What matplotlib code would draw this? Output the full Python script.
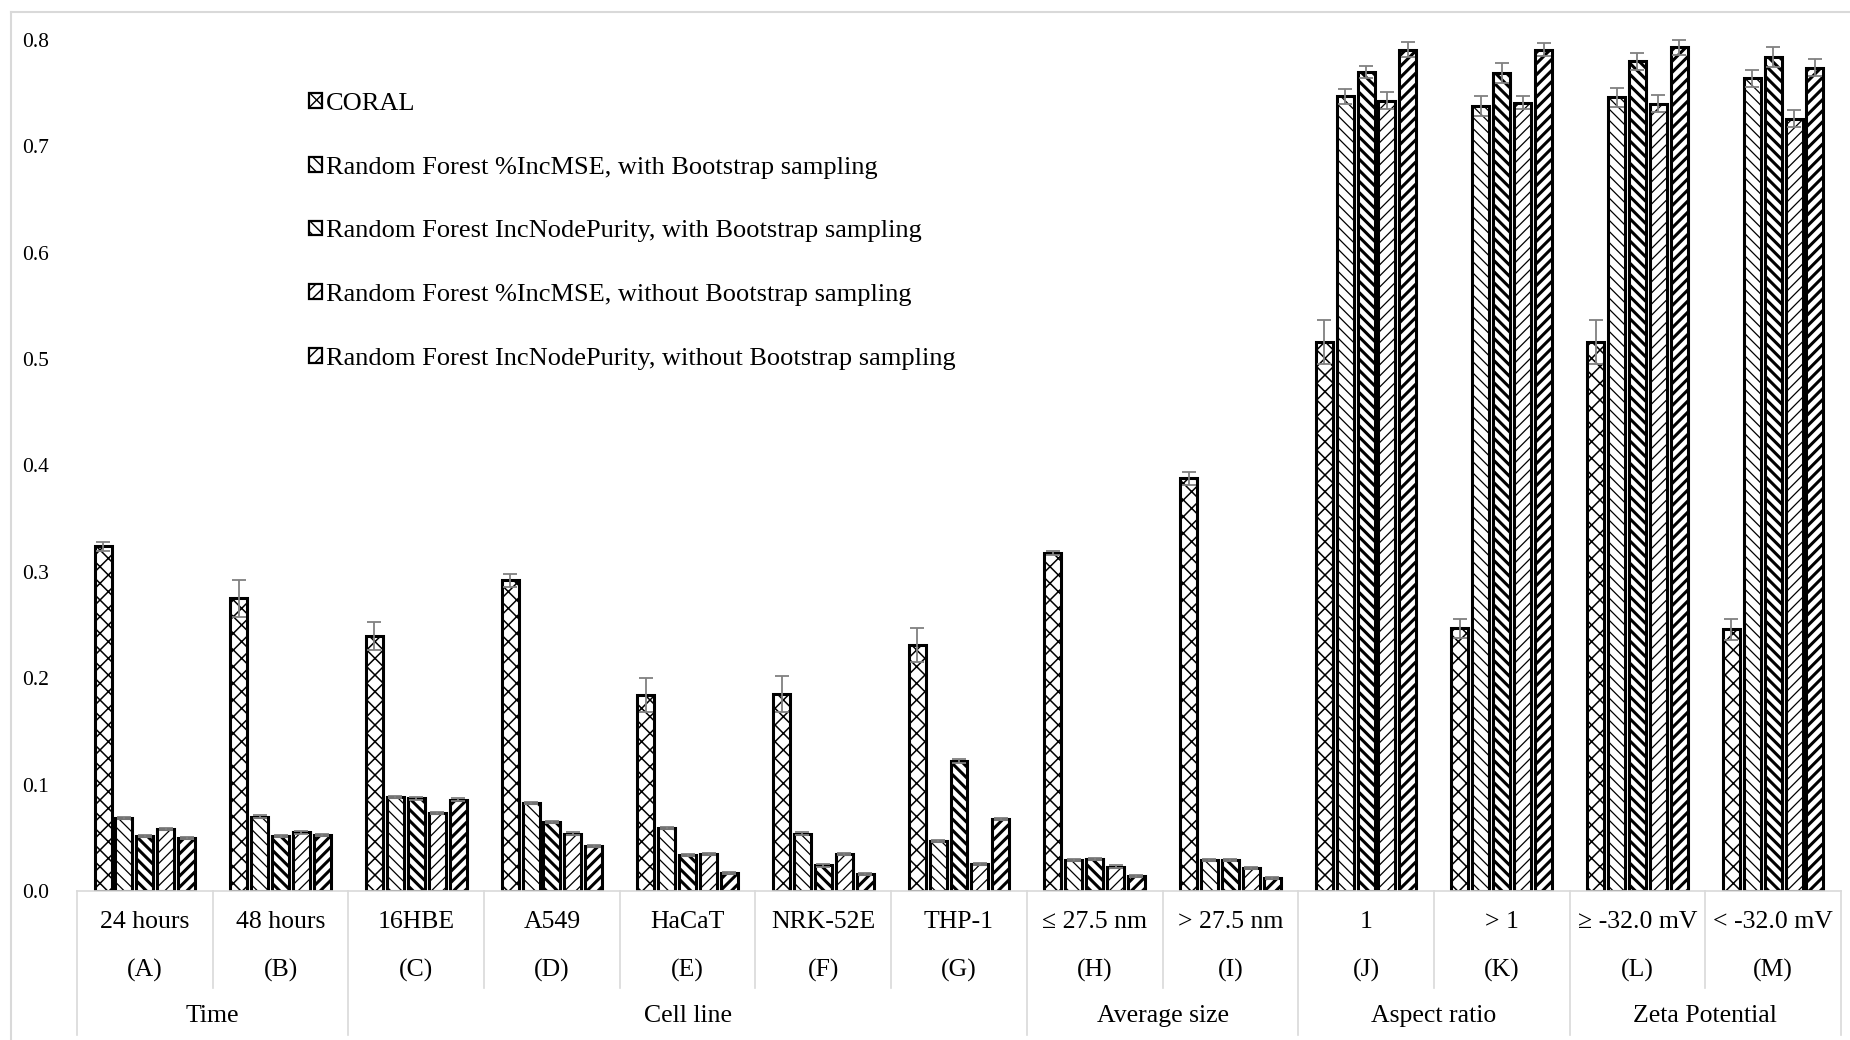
import numpy as np
import matplotlib
matplotlib.use('Agg')
import matplotlib.pyplot as plt
from matplotlib.lines import Line2D
from matplotlib.patches import Patch

plt.rcParams['font.family'] = ['Liberation Serif', 'DejaVu Serif']

labels = ['24 hours', '48 hours', '16HBE', 'A549', 'HaCaT', 'NRK-52E', 'THP-1',
          '\u2264 27.5 nm', '> 27.5 nm', '1', '> 1', '\u2265 -32.0 mV', '< -32.0 mV']
letters = ['(A)', '(B)', '(C)', '(D)', '(E)', '(F)', '(G)',
           '(H)', '(I)', '(J)', '(K)', '(L)', '(M)']
groups = ['Time', 'Cell line', 'Average size', 'Aspect ratio', 'Zeta Potential']
group_sizes = [2, 5, 2, 2, 2]

series_names = ['CORAL',
                'Random Forest %IncMSE, with Bootstrap sampling',
                'Random Forest IncNodePurity, with Bootstrap sampling',
                'Random Forest %IncMSE, without Bootstrap sampling',
                'Random Forest IncNodePurity, without Bootstrap sampling']

coral = [0.324, 0.275, 0.240, 0.292, 0.184, 0.185, 0.231, 0.318, 0.388, 0.516, 0.247, 0.516, 0.246]
rf_mse_bs = [0.069, 0.070, 0.088, 0.083, 0.059, 0.054, 0.047, 0.029, 0.029, 0.747, 0.738, 0.746, 0.764]
rf_inp_bs = [0.052, 0.052, 0.087, 0.065, 0.034, 0.024, 0.122, 0.030, 0.029, 0.770, 0.769, 0.780, 0.784]
rf_mse_nobs = [0.058, 0.055, 0.073, 0.054, 0.035, 0.035, 0.025, 0.023, 0.022, 0.743, 0.741, 0.740, 0.726]
rf_inp_nobs = [0.050, 0.053, 0.086, 0.042, 0.017, 0.016, 0.068, 0.014, 0.012, 0.791, 0.791, 0.793, 0.774]

coral_err = [0.004, 0.017, 0.013, 0.006, 0.016, 0.017, 0.016, 0.002, 0.006, 0.021, 0.009, 0.021, 0.010]
rf_mse_bs_err = [0.001, 0.001, 0.001, 0.001, 0.001, 0.001, 0.001, 0.001, 0.001, 0.007, 0.009, 0.009, 0.008]
rf_inp_bs_err = [0.001, 0.001, 0.001, 0.001, 0.001, 0.001, 0.002, 0.001, 0.001, 0.006, 0.009, 0.008, 0.009]
rf_mse_nobs_err = [0.001, 0.001, 0.001, 0.001, 0.001, 0.001, 0.001, 0.001, 0.001, 0.008, 0.006, 0.008, 0.008]
rf_inp_nobs_err = [0.001, 0.001, 0.001, 0.001, 0.001, 0.001, 0.001, 0.001, 0.001, 0.007, 0.006, 0.007, 0.008]

values = [coral, rf_mse_bs, rf_inp_bs, rf_mse_nobs, rf_inp_nobs]
errors = [coral_err, rf_mse_bs_err, rf_inp_bs_err, rf_mse_nobs_err, rf_inp_nobs_err]
hatches = ['xx', '\\\\\\', '\\\\\\', '///', '///']
hatch_lw = [1.1, 0.9, 2.2, 0.9, 2.2]

W, H = 1850, 1040
fig = plt.figure(figsize=(W / 100, H / 100), dpi=100)
x0, x1, y_top, y_zero = 77, 1841, 40, 891
ax = fig.add_axes([x0 / W, (H - y_zero) / H, (x1 - x0) / W, (y_zero - y_top) / H])

x = np.arange(len(labels))
pitch = 0.154
bw = 0.125
for i, (vals, errs) in enumerate(zip(values, errors)):
    bars = ax.bar(x + (i - 2) * pitch, vals, bw, color='white', edgecolor='black',
                  linewidth=2.2, hatch=hatches[i], zorder=2)
    for b in bars:
        if hasattr(b, 'set_hatch_linewidth'):
            b.set_hatch_linewidth(hatch_lw[i])
    ax.errorbar(x + (i - 2) * pitch, vals, yerr=errs, fmt='none', ecolor='#808080',
                elinewidth=1.3, capsize=5, capthick=1.3, zorder=3, clip_on=False)

ax.set_xlim(-0.5, len(labels) - 0.5)
ax.set_ylim(0, 0.8)
ax.set_yticks(np.arange(0, 0.81, 0.1))
ax.set_yticklabels([f'{v:.1f}' for v in np.arange(0, 0.81, 0.1)], fontsize=15.5)
ax.tick_params(axis='y', length=0, pad=20)
ax.set_xticks([])
for s in ['left', 'right', 'top']:
    ax.spines[s].set_visible(False)
ax.spines['bottom'].set_color('#d9d9d9')
ax.spines['bottom'].set_linewidth(1.2)

# category table under the axis
def ay(py):
    return (y_zero - py) / (y_zero - y_top)

tr = ax.get_xaxis_transform()
for i in range(len(labels)):
    ax.text(i, ay(922), labels[i], transform=tr, ha='center', va='center', fontsize=18.5)
    ax.text(i, ay(970), letters[i], transform=tr, ha='center', va='center', fontsize=18.5)

bounds = np.cumsum([0] + group_sizes) - 0.5
start = 0
for g, n in zip(groups, group_sizes):
    ax.text(start + (n - 1) / 2, ay(1016), g, transform=tr, ha='center', va='center', fontsize=18.5)
    start += n
for b in np.arange(-0.5, len(labels)):
    if np.any(np.isclose(bounds, b)):
        ax.plot([b, b], [0, ay(1035)], transform=tr, color='#d9d9d9', lw=1.2, clip_on=False)
    else:
        ax.plot([b, b], [0, ay(988)], transform=tr, color='#d9d9d9', lw=1.2, clip_on=False)

handles = []
for i in range(5):
    p = Patch(facecolor='white', edgecolor='black', hatch=hatches[i], linewidth=1.6)
    if hasattr(p, 'set_hatch_linewidth'):
        p.set_hatch_linewidth(hatch_lw[i])
    handles.append(p)
leg = ax.legend(handles, series_names, loc='upper left',
                bbox_to_anchor=(309 / W, (H - 93) / H), bbox_transform=fig.transFigure,
                frameon=False, fontsize=19, handlelength=0.48, handleheight=0.48,
                handletextpad=0.15, labelspacing=1.58, borderaxespad=0, borderpad=0)

# outer chart border
fig.add_artist(Line2D([11 / W, 11 / W], [0, (H - 12) / H], color='#d9d9d9', lw=1.5))
fig.add_artist(Line2D([11 / W, 1], [(H - 12) / H, (H - 12) / H], color='#d9d9d9', lw=1.5))

plt.savefig('out.png', dpi=100)
